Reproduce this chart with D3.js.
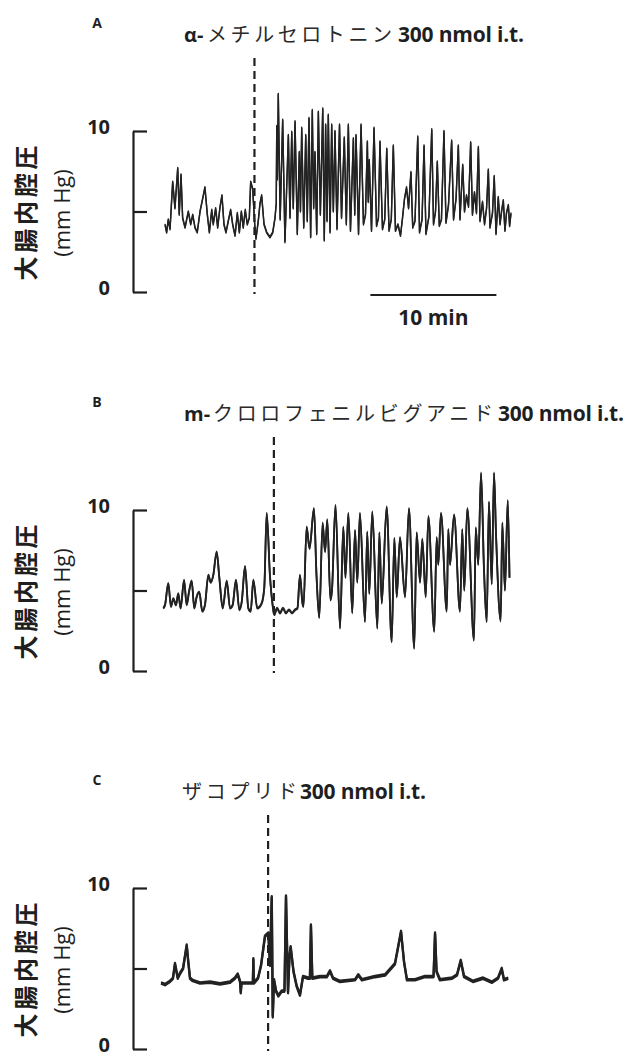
<!DOCTYPE html>
<html>
<head>
<meta charset="utf-8">
<script src="https://cdn.jsdelivr.net/npm/d3@7"></script>
<style>
  body { margin: 0; background: #fff; }
  svg { display: block; }
</style>
</head>
<body>
<svg id="chart" width="636" height="1055"></svg>
<script>
// Panel labels and drug names
const panelLetters = ["A", "B", "C"];
const drugPrefixes = ["α-", "m-", ""];
const drugNames = ["メチルセロトニン", "クロロフェニルビグアニド", "ザコプリド"];
const doseLabel = "300 nmol i.t.";
const yLabel = "大腸内腔圧";
const yUnit = "(mm Hg)";

// Pressure axis ticks (mm Hg)
const pressureTicks = [0, 5, 10];
const pressureTickLabels = ["0", "", "10"];

// Drug injection time (min from trace start) for each record
const injectionTimes = [7.1, 8.8, 8.5];

// Time scale bar
const scaleBarStart = 16.3;
const scaleBarMinutes = 10;
const scaleBarLabel = "10 min";

// Record A: [time (min), intracolonic pressure (mm Hg)]
const traceA = [
  [0.00,4.2],[0.13,3.7],[0.26,4.5],[0.40,3.9],[0.61,6.85],[0.79,5.2],[1.01,7.7],[1.13,4.8],
  [1.27,7.3],[1.40,4.6],[1.59,4.0],[1.85,5.0],[2.04,4.2],[2.20,4.8],[2.38,4.0],[2.56,3.7],
  [2.78,5.0],[2.99,5.8],[3.17,6.5],[3.36,4.8],[3.52,3.7],[3.71,5.1],[3.83,4.2],[4.02,5.2],
  [4.18,4.0],[4.37,5.3],[4.52,6.0],[4.68,4.2],[4.84,3.7],[5.02,4.4],[5.21,5.1],[5.37,4.2],
  [5.56,3.5],[5.74,4.9],[5.90,3.7],[6.06,5.0],[6.21,4.0],[6.37,5.1],[6.53,4.2],[6.69,4.6],
  [6.80,6.85],[6.96,6.4],[7.12,4.2],[7.22,3.3],[7.40,4.4],[7.54,5.5],[7.67,6.0],[7.86,4.2],
  [8.07,3.7],[8.33,3.4],[8.55,3.7],[8.73,4.6],[8.83,5.5],[8.87,10.3],[8.92,7.0],[8.99,12.3],
  [9.14,4.5],[9.34,10.7],[9.52,3.1],[9.79,9.75],[9.92,4.6],[10.06,9.95],[10.18,5.2],[10.32,10.6],
  [10.50,3.6],[10.66,8.7],[10.75,5.0],[10.85,10.2],[11.01,4.0],[11.17,9.75],[11.29,4.4],[11.43,10.8],
  [11.56,3.4],[11.69,11.3],[11.80,5.2],[11.90,8.7],[12.04,3.6],[12.17,11.2],[12.33,4.8],[12.52,11.4],
  [12.64,3.2],[12.75,10.4],[12.86,4.4],[12.96,11.0],[13.10,3.7],[13.23,10.4],[13.36,5.0],[13.49,10.0],
  [13.65,3.9],[13.85,10.4],[14.01,4.6],[14.23,9.6],[14.39,4.2],[14.55,10.4],[14.72,3.8],[14.95,9.55],
  [15.06,4.8],[15.16,9.75],[15.36,3.6],[15.56,10.4],[15.75,4.2],[15.91,4.8],[16.06,9.35],[16.13,5.6],
  [16.21,8.2],[16.39,3.8],[16.59,10.2],[16.79,4.1],[16.94,4.6],[17.06,9.35],[17.26,3.9],[17.44,4.5],
  [17.60,8.9],[17.78,3.8],[17.96,4.5],[18.12,9.1],[18.29,3.8],[18.49,4.2],[18.69,3.5],[18.85,4.6],
  [19.01,5.8],[19.17,6.5],[19.33,5.2],[19.52,7.45],[19.66,4.0],[19.84,4.4],[20.06,9.65],[20.20,3.7],
  [20.40,4.5],[20.56,9.1],[20.71,3.6],[20.95,4.7],[21.17,10.1],[21.31,4.2],[21.47,5.0],[21.61,8.1],
  [21.77,4.1],[21.94,4.5],[22.14,10.0],[22.30,4.3],[22.50,5.4],[22.75,9.4],[22.90,4.5],[23.10,5.8],
  [23.28,9.1],[23.41,4.5],[23.63,7.9],[23.77,5.0],[23.93,6.0],[24.09,5.3],[24.26,9.3],[24.40,4.8],
  [24.56,6.2],[24.72,4.9],[24.87,9.0],[25.00,4.4],[25.20,5.6],[25.36,4.2],[25.52,5.2],[25.66,7.6],
  [25.79,4.0],[25.99,4.9],[26.13,7.2],[26.27,3.6],[26.45,5.9],[26.59,4.2],[26.71,5.0],[26.85,5.7],
  [26.98,3.8],[27.10,4.9],[27.25,5.4],[27.35,4.1],[27.46,4.9]
];

// Record B: [time (min), intracolonic pressure (mm Hg)]
const traceB = [
  [0.02,3.9],[0.16,4.1],[0.42,5.45],[0.63,4.0],[0.82,4.5],[1.03,4.1],[1.21,4.8],[1.40,3.9],
  [1.67,5.65],[1.88,4.1],[2.06,4.9],[2.28,5.6],[2.48,3.9],[2.67,4.6],[2.88,4.9],[3.12,3.7],
  [3.33,4.1],[3.60,5.95],[3.79,5.5],[3.99,5.95],[4.26,7.4],[4.47,5.8],[4.74,3.9],[5.06,5.6],
  [5.32,3.9],[5.53,4.1],[5.79,5.65],[6.06,3.8],[6.25,4.3],[6.51,6.5],[6.77,3.9],[6.96,3.7],
  [7.17,5.65],[7.48,3.9],[7.83,4.2],[8.04,5.2],[8.23,9.8],[8.49,5.9],[8.70,4.1],[8.83,3.5],
  [9.05,3.9],[9.29,3.6],[9.52,3.9],[9.76,3.6],[10.00,3.8],[10.24,3.6],[10.48,3.8],[10.67,3.9],
  [10.87,5.95],[11.07,4.2],[11.15,4.0],[11.40,8.95],[11.63,7.6],[11.98,10.1],[12.18,6.0],[12.40,3.3],
  [12.67,9.2],[12.86,7.4],[13.04,9.4],[13.29,4.4],[13.41,5.0],[13.69,10.3],[14.05,2.65],[14.31,8.95],
  [14.48,5.8],[14.71,9.8],[15.02,3.6],[15.24,8.75],[15.42,5.5],[15.63,9.8],[16.03,3.05],[16.21,8.65],
  [16.37,4.8],[16.61,9.9],[17.01,2.65],[17.17,8.6],[17.36,4.2],[17.75,10.2],[18.15,1.8],[18.36,8.25],
  [18.55,4.6],[18.81,8.3],[19.21,4.6],[19.52,10.1],[19.94,1.4],[20.13,8.6],[20.40,5.5],[20.58,8.2],
  [20.85,4.6],[21.06,9.6],[21.53,2.45],[21.72,8.3],[21.85,6.6],[22.06,9.8],[22.52,3.7],[22.64,8.8],
  [22.78,6.6],[23.10,9.7],[23.57,3.7],[23.75,8.8],[23.91,5.0],[24.15,10.1],[24.68,1.9],[24.82,8.9],
  [25.02,6.6],[25.24,12.3],[25.48,6.2],[25.69,3.05],[25.87,10.5],[26.09,5.4],[26.27,12.3],[26.43,8.5],
  [26.80,3.1],[26.93,9.2],[27.14,5.0],[27.36,10.6],[27.50,5.8]
];

// Record C: [time (min), intracolonic pressure (mm Hg)]
const traceC = [
  [0.00,4.1],[0.32,4.0],[0.71,4.2],[0.95,4.4],[1.11,5.3],[1.33,4.4],[1.51,4.7],[1.75,5.0],
  [2.04,6.45],[2.18,5.3],[2.30,4.4],[2.52,4.25],[3.10,4.1],[3.89,4.15],[4.68,4.05],[5.48,4.15],
  [5.87,4.4],[6.09,4.65],[6.27,4.2],[6.33,3.5],[6.39,4.1],[6.90,4.1],[7.29,4.1],[7.33,5.6],
  [7.37,4.1],[7.70,4.4],[7.94,5.2],[8.25,7.0],[8.52,7.2],[8.65,5.2],[8.79,9.45],[8.87,2.0],
  [8.97,4.3],[9.13,3.6],[9.31,3.3],[9.58,3.6],[9.80,3.6],[9.92,9.5],[10.08,3.5],[10.20,5.8],
  [10.29,6.35],[10.40,5.6],[10.52,4.8],[10.77,3.9],[11.03,3.35],[11.27,4.5],[11.67,4.4],[11.82,4.4],
  [11.90,7.7],[12.01,4.4],[12.62,4.5],[13.17,4.5],[13.41,4.85],[13.65,4.4],[14.21,4.2],[15.40,4.3],
  [15.66,4.6],[15.95,4.3],[16.98,4.5],[17.78,4.6],[18.57,5.3],[19.05,7.3],[19.29,5.4],[19.52,4.3],
  [20.16,4.3],[20.95,4.5],[21.63,4.5],[21.75,7.2],[21.87,4.8],[22.14,4.3],[23.10,4.4],[23.49,4.6],
  [23.79,5.5],[24.05,4.5],[24.76,4.2],[25.56,4.4],[26.27,4.15],[26.75,4.4],[27.04,5.0],[27.22,4.3],
  [27.56,4.4]
];

const traces = [traceA, traceB, traceC];

// ---- layout ----
const latinFont = "'Open Sans', 'Liberation Sans', sans-serif";
const cjkFont = "'Noto Sans CJK JP', 'Noto Sans', sans-serif";
const ink = "#1f1f1f";
const pxPerMinute = 12.6;
const pxPerMmHg = 16.1;
const axisX = 133;

const panels = [
  { y0: 292,  x0: 165, prefixX: 184, nameX: 207, nameLen: 185, doseX: 398, curve: d3.curveLinear,    width: 1.4, band: 0.6 },
  { y0: 671,  x0: 163, prefixX: 184, nameX: 213, nameLen: 280, doseX: 498, curve: d3.curveMonotoneX, width: 1.8, band: 0.45 },
  { y0: 1049, x0: 161, prefixX: 182, nameX: 182, nameLen: 115, doseX: 300, curve: d3.curveLinear,    width: 2.3, band: 0.7 }
];

const svg = d3.select("#chart");

panels.forEach((p, i) => {
  const g = svg.append("g");
  const x = d3.scaleLinear().domain([0, 10]).range([p.x0, p.x0 + 10 * pxPerMinute]);
  const y = d3.scaleLinear().domain([0, 10]).range([p.y0, p.y0 - 10 * pxPerMmHg]);

  // panel letter
  g.append("text")
    .attr("x", 97).attr("y", p.y0 - 264)
    .attr("text-anchor", "middle")
    .attr("font-family", latinFont).attr("font-weight", 700).attr("font-size", 14)
    .attr("fill", ink)
    .text(panelLetters[i]);

  // title: drug name + dose
  if (drugPrefixes[i]) {
    g.append("text")
      .attr("x", p.prefixX).attr("y", p.y0 - 250)
      .attr("font-family", latinFont).attr("font-weight", 700).attr("font-size", 20)
      .attr("fill", ink)
      .text(drugPrefixes[i]);
  }
  g.append("text")
    .attr("x", p.nameX).attr("y", p.y0 - 250)
    .attr("font-family", cjkFont).attr("font-weight", 400).attr("font-size", 20)
    .attr("fill", "#2a2a2a")
    .attr("textLength", p.nameLen).attr("lengthAdjust", "spacing")
    .text(drugNames[i]);
  g.append("text")
    .attr("x", p.doseX).attr("y", p.y0 - 250)
    .attr("font-family", latinFont).attr("font-weight", 700).attr("font-size", 21)
    .attr("letter-spacing", -0.2)
    .attr("fill", ink)
    .text(doseLabel);

  // y-axis titles
  g.append("text")
    .attr("transform", `translate(26,${p.y0 - 79}) rotate(-90)`)
    .attr("text-anchor", "middle").attr("dy", "0.36em")
    .attr("font-family", cjkFont).attr("font-weight", 700).attr("font-size", 24)
    .attr("fill", ink)
    .attr("textLength", 135).attr("lengthAdjust", "spacing")
    .text(yLabel);
  g.append("text")
    .attr("transform", `translate(62,${p.y0 - 79}) rotate(-90)`)
    .attr("text-anchor", "middle").attr("dy", "0.36em")
    .attr("font-family", latinFont).attr("font-weight", 400).attr("font-size", 22)
    .attr("fill", ink)
    .text(yUnit);

  // pressure axis
  const axis = d3.axisLeft(y)
    .tickValues(pressureTicks)
    .tickFormat((d, k) => pressureTickLabels[k])
    .tickSizeInner(-14).tickSizeOuter(0).tickPadding(23);
  const ag = g.append("g").attr("transform", `translate(${axisX},0)`).call(axis);
  ag.select(".domain").attr("stroke", ink).attr("stroke-width", 2.2);
  ag.selectAll(".tick line").attr("stroke", ink).attr("stroke-width", 2.2);
  ag.selectAll(".tick text")
    .attr("dy", "0.14em")
    .attr("font-family", latinFont).attr("font-weight", 700).attr("font-size", 20)
    .attr("fill", ink);

  // injection marker
  const xi = x(injectionTimes[i]);
  g.append("line")
    .attr("x1", xi).attr("x2", xi)
    .attr("y1", p.y0 - 234).attr("y2", p.y0 + 2)
    .attr("stroke", ink).attr("stroke-width", 2.2)
    .attr("stroke-dasharray", "8,5");

  // pressure trace, drawn as a narrow band
  const line = d3.line().x(d => x(d[0])).y(d => y(d[1])).curve(p.curve);
  [-p.band, p.band].forEach(off => {
    g.append("path")
      .datum(traces[i])
      .attr("transform", `translate(0,${off})`)
      .attr("fill", "none")
      .attr("stroke", "#222")
      .attr("stroke-width", p.width)
      .attr("stroke-linejoin", "round")
      .attr("d", line);
  });

  // time scale bar (first record only)
  if (i === 0) {
    const xa = x(scaleBarStart), xb = x(scaleBarStart + scaleBarMinutes);
    g.append("line")
      .attr("x1", xa).attr("x2", xb)
      .attr("y1", p.y0 + 3).attr("y2", p.y0 + 3)
      .attr("stroke", ink).attr("stroke-width", 2);
    g.append("text")
      .attr("x", (xa + xb) / 2).attr("y", p.y0 + 33)
      .attr("text-anchor", "middle")
      .attr("font-family", latinFont).attr("font-weight", 700).attr("font-size", 21)
      .attr("fill", ink)
      .text(scaleBarLabel);
  }
});
</script>
</body>
</html>
